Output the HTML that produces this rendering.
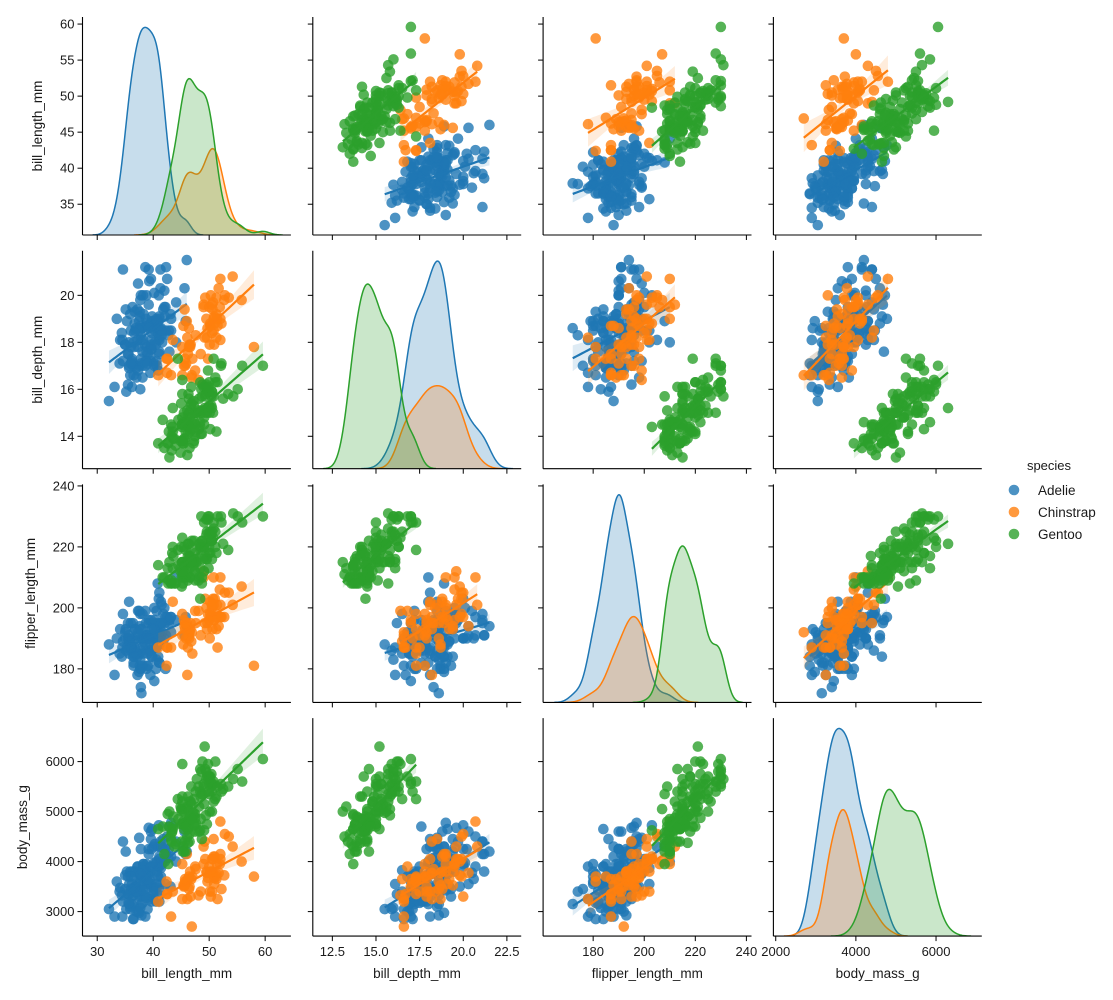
<!DOCTYPE html>
<html><head><meta charset="utf-8"><style>
html,body{margin:0;padding:0;background:#fff;}
svg{display:block;font-family:"Liberation Sans",sans-serif;}
</style></head><body>
<svg id="chart" width="1113" height="1000" viewBox="0 0 1113 1000" xmlns="http://www.w3.org/2000/svg"></svg>
<script>
// ---- data (Palmer penguins) ----
const variables = ["bill_length_mm","bill_depth_mm","flipper_length_mm","body_mass_g"];
const species = ["Adelie","Chinstrap","Gentoo"];
const adelieBillLength=[39.1,39.5,40.3,36.7,39.3,38.9,39.2,34.1,42,37.8,37.8,41.1,38.6,34.6,36.6,38.7,42.5,34.4,46,37.8,37.7,35.9,38.2,38.8,35.3,40.6,40.5,37.9,40.5,39.5,37.2,39.5,40.9,36.4,39.2,38.8,42.2,37.6,39.8,36.5,40.8,36,44.1,37,39.6,41.1,37.5,42.3,39.6,40.1,35,42,34.5,41.4,39,40.6,36.5,37.6,35.7,41.3,37.6,41.1,36.4,41.6,35.5,41.1,35.9,41.8,33.5,39.7,39.6,45.8,35.5,42.8,40.9,37.2,36.2,42.1,34.6,42.9,36.7,35.1,37.3,41.3,36.3,36.9,38.3,38.9,35.7,41.1,34,39.6,36.2,40.8,38.1,40.3,33.1,43.2,35,41,37.7,37.8,37.9,39.7,38.6,38.2,38.1,43.2,38.1,45.6,39.7,42.2,39.6,42.7,38.6,37.3,35.7,41.1,36.2,37.7,40.2,41.4,35.2,40.6,38.8,41.5,39,44.1,38.5,43.1,36.8,37.5,38.1,41.1,35.6,40.2,37,39.7,40.2,40.6,32.1,40.7,37.3,39,39.2,36.6,36,37.8,36,41.5];
const adelieBillDepth=[18.7,17.4,18,19.3,20.6,17.8,19.6,18.1,20.2,17.1,17.3,17.6,21.2,21.1,17.8,19,20.7,18.4,21.5,18.3,18.7,19.2,18.1,17.2,18.9,18.6,17.9,18.6,18.9,16.7,18.1,17.8,18.9,17,21.1,20,18.5,19.3,19.1,18,18.4,18.5,19.7,16.9,18.8,19,18.9,21.2,17.7,18.9,17.9,19.5,18.1,18.6,17.5,18.8,16.6,19.1,16.9,21.1,17,18.2,17.1,18,16.2,19.1,16.6,19.4,19,18.4,17.2,18.9,17.5,18.5,16.8,19.4,16.1,19.1,17.2,17.6,18.8,19.4,17.8,20.3,19.5,18.6,19.2,18.8,18,18.1,17.1,18.1,17.3,18.9,18.6,18.5,16.1,18.5,17.9,20,16,20,18.6,18.9,17.2,20,17,19,16.5,20.3,17.7,19.5,20.7,18.3,17,20.5,17,18.6,17.2,19.8,17,18.5,15.9,19,17.6,18.3,17.1,18,17.9,19.2,18.5,18.5,17.6,17.5,17.5,20.1,16.5,17.9,17.1,17.2,15.5,17,16.8,18.7,18.6,18.4,17.8,18.1,17.1,18.5];
const adelieFlipper=[181,186,195,193,190,181,195,193,190,186,180,182,191,198,185,195,197,184,194,174,180,189,185,180,187,183,187,172,180,178,178,188,184,195,196,190,180,181,184,182,195,186,196,185,190,182,179,191,186,188,190,200,187,191,186,193,181,194,185,195,185,192,184,192,195,188,190,198,190,190,196,197,190,195,191,184,187,195,189,196,187,193,191,194,190,189,189,190,202,205,185,186,187,208,190,196,178,192,192,203,183,190,193,184,199,190,181,197,198,191,193,197,191,196,188,199,189,189,187,198,176,202,186,199,191,195,191,210,190,197,193,199,187,190,191,200,185,193,193,187,188,190,192,185,190,184,195,193,187,201];
const adelieMass=[3750,3800,3250,3450,3650,3625,4675,3475,4250,3300,3700,3200,3800,4400,3700,3450,4500,3325,4200,3400,3600,3800,3950,3800,3800,3550,3200,3150,3950,3250,3900,3300,3900,3325,4150,3950,3550,3300,4650,3150,3900,3100,4400,3000,4600,3425,2975,4150,3500,4300,3450,4050,2900,3700,3550,3800,2850,3750,3150,4400,3600,4050,2850,3950,3350,4100,3050,4450,3600,3900,3550,4150,3700,4250,3700,3900,3550,4000,3200,4700,3800,4200,3350,3550,3800,3500,3950,3600,3550,4300,3400,4450,3300,4300,3700,4350,2900,4100,3725,4725,3075,4250,2925,3550,3750,3900,3175,4775,3825,4600,3200,4275,3900,4075,2900,3775,3350,3325,3150,3500,3450,3875,3050,4000,3275,4300,3050,4000,3325,3500,3500,4475,3425,3900,3175,3975,3400,4250,3400,3475,3050,3725,3000,3650,4250,3475,3450,3750,3700,4000];
const chinBillLength=[46.5,50,51.3,45.4,52.7,45.2,46.1,51.3,46,51.3,46.6,51.7,47,52,45.9,50.5,50.3,58,46.4,49.2,42.4,48.5,43.2,50.6,46.7,52,50.5,49.5,46.4,52.8,40.9,54.2,42.5,51,49.7,47.5,47.6,52,46.9,53.5,49,46.2,50.9,45.5,50.9,50.8,50.1,49,51.5,49.8,48.1,51.4,45.7,50.7,42.5,52.2,45.2,49.3,50.2,45.6,51.9,46.8,45.7,55.8,43.5,49.6,50.8,50.2];
const chinBillDepth=[17.9,19.5,19.2,18.7,19.8,17.8,18.2,18.2,18.9,19.9,17.8,20.3,17.3,18.1,17.1,19.6,20,17.8,18.6,18.2,17.3,17.5,16.6,19.4,17.9,19,18.4,19,17.8,20,16.6,20.8,16.7,18.8,18.6,16.8,18.3,20.7,16.6,19.9,19.5,17.5,19.1,17,17.9,18.5,17.9,19.6,18.7,17.3,16.4,19,17.3,19.7,17.3,18.8,16.6,19.9,18.8,19.4,19.5,16.5,17,19.8,18.1,18.2,19,18.7];
const chinFlipper=[192,196,193,188,197,198,178,197,195,198,193,194,185,201,190,201,197,181,190,195,181,191,187,193,195,197,200,200,191,205,187,201,187,203,195,199,195,210,192,205,210,187,196,196,196,201,190,212,187,198,199,201,193,203,187,197,191,203,202,194,206,189,195,207,202,193,210,198];
const chinMass=[3500,3900,3650,3525,3725,3950,3250,3750,4150,3700,3800,3775,3700,4050,3575,4050,3300,3700,3450,4400,3600,3400,2900,3800,3300,4150,3400,3800,3700,4550,3200,4300,3350,4100,3600,3900,3850,4800,2700,4500,3950,3650,3550,3500,3675,4450,3400,4300,3250,3675,3325,3950,3600,4050,3350,3450,3250,4050,3800,3525,3950,3650,3650,4000,3400,3775,4100,3775];
const gentBillLength=[46.1,50,48.7,50,47.6,46.5,45.4,46.7,43.3,46.8,40.9,49,45.5,48.4,45.8,49.3,42,49.2,46.2,48.7,50.2,45.1,46.5,46.3,42.9,46.1,47.8,48.2,50,47.3,42.8,45.1,59.6,49.1,48.4,42.6,44.4,44,48.7,42.7,49.6,45.3,49.6,50.5,43.6,45.5,50.5,44.9,45.2,46.6,48.5,45.1,50.1,46.5,45,43.8,45.5,43.2,50.4,45.3,46.2,45.7,54.3,45.8,49.8,46.2,49.5,43.5,50.7,47.7,46.4,48.2,46.5,46.4,48.6,47.5,51.1,45.2,45.2,49.1,52.5,47.4,50,44.9,50.8,43.4,51.3,47.5,52.1,47.5,52.2,45.5,49.5,44.5,50.8,49.4,46.9,48.4,51.1,48.5,55.9,47.2,49.1,47.3,46.8,41.7,53.4,43.3,48.1,50.5,49.8,43.5,51.5,46.2,55.1,48.8,47.2,46.8,50.4,45.2,49.9];
const gentBillDepth=[13.2,16.3,14.1,15.2,14.5,13.5,14.6,15.3,13.4,15.4,13.7,16.1,13.7,14.6,14.6,15.7,13.5,15.2,14.5,15.1,14.3,14.5,14.5,15.8,13.1,15.1,15,14.3,15.3,15.3,14.2,14.5,17,14.8,16.3,13.7,17.3,13.6,15.7,13.7,16,13.7,15,15.9,13.9,13.9,15.9,13.3,15.8,14.2,14.1,14.4,15,14.4,15.4,13.9,15,14.5,15.3,13.8,14.9,13.9,15.7,14.2,16.8,14.4,16.2,14.2,15,15,15.6,15.6,14.8,15,16,14.2,16.3,13.8,16.4,14.5,15.6,14.6,15.9,13.8,17.3,14.4,14.2,14,17,15,17.1,14.5,16.1,14.7,15.7,15.8,14.6,14.4,16.5,15,17,15.5,15,13.8,16.1,14.7,15.8,14,15.1,15.2,15.9,15.2,16.3,14.1,16,16.2,13.7,14.3,15.7,14.8,16.1];
const gentFlipper=[211,230,210,218,215,210,211,219,209,215,214,216,214,213,210,217,210,221,209,222,218,215,213,215,215,215,215,210,220,222,209,207,230,220,220,213,219,208,208,208,225,210,216,222,217,210,225,213,215,210,220,210,225,217,220,208,220,208,224,208,221,214,231,219,230,214,229,220,223,216,221,221,217,216,230,209,220,215,223,212,221,212,224,212,228,218,218,212,230,218,228,212,224,214,226,216,222,203,225,219,228,215,228,216,215,210,219,208,209,216,229,213,230,217,230,222,214,215,222,212,213];
const gentMass=[4500,5700,4450,5700,5400,4550,4800,5200,4400,5150,4650,5550,4650,5850,4200,5850,4150,6300,4800,5350,5700,5000,4400,5050,5000,5100,5650,4600,5550,5250,4700,5050,6050,5150,5400,4950,5250,4350,5350,3950,5700,4300,4750,5550,4900,4200,5400,5100,5300,4850,5300,4400,5000,4900,5050,4300,5000,4450,5550,4200,5300,4400,5650,4700,5700,4650,5800,4700,5550,4750,5000,5100,5200,4700,5800,4600,6000,4750,5950,4625,5450,4725,5350,4750,5600,4600,5300,4875,5550,4950,5400,4750,5650,4850,5200,4925,4875,4625,5250,4850,5600,4975,5500,4725,5500,4700,5500,4575,5500,5000,5950,4650,5500,4375,5850,6000,4925,4850,5750,5200,5400];
const xTicks0=[30,40,50,60], xTicks1=[12.5,15,17.5,20,22.5], xTicks2=[180,200,220,240], xTicks3=[2000,4000,6000];
const yTicks0=[35,40,45,50,55,60], yTicks1=[14,16,18,20], yTicks2=[180,200,220,240], yTicks3=[3000,4000,5000,6000];
const xTickLabels1=["12.5","15.0","17.5","20.0","22.5"];

// ---- layout ----
const colors=["#1f77b4","#ff7f0e","#2ca02c"];
const XLIM=[[27.37,64.6],[11.38,23.32],[160.4,242],[1942,7142]];
const YLIM=[[30.73,60.98],[12.62,21.9],[169,240.5],[2510,6870]];
const L0=82.5,CSTEP=230.3,W=208.4,T0=17,RSTEP=233.7,H=218;
const data=[[adelieBillLength,adelieBillDepth,adelieFlipper,adelieMass],[chinBillLength,chinBillDepth,chinFlipper,chinMass],[gentBillLength,gentBillDepth,gentFlipper,gentMass]];
const xt=[xTicks0,xTicks1,xTicks2,xTicks3], yt=[yTicks0,yTicks1,yTicks2,yTicks3];
const NS="http://www.w3.org/2000/svg";
const svg=document.getElementById("chart");
function mk(tag,attrs,parent){const e=document.createElementNS(NS,tag);for(const k in attrs)e.setAttribute(k,attrs[k]);(parent||svg).appendChild(e);return e;}
function sx(c,v){return L0+c*CSTEP+(v-XLIM[c][0])/(XLIM[c][1]-XLIM[c][0])*W;}
function sy(r,v){return T0+r*RSTEP+H-(v-YLIM[r][0])/(YLIM[r][1]-YLIM[r][0])*H;}
function mean(a){return a.reduce((s,v)=>s+v,0)/a.length;}
function std(a){const m=mean(a);return Math.sqrt(a.reduce((s,v)=>s+(v-m)*(v-m),0)/(a.length-1));}
const N=data.reduce((s,d)=>s+d[0].length,0);

for(let r=0;r<4;r++)for(let c=0;c<4;c++){
  const ax=mk("g",{});
  
  
  const left=L0+c*CSTEP, top=T0+r*RSTEP;
  const cp=mk("clipPath",{id:"cp"+r+c},ax); mk("rect",{x:left,y:top,width:W,height:H},cp);
  const plot=mk("g",{"clip-path":"url(#cp"+r+c+")"},ax);
  if(r===c){
    // KDE diagonal
    const curves=[];let ymax=0;
    data.forEach((d,s)=>{const a=d[c];const bw=std(a)*Math.pow(a.length,-0.2);
      const lo=Math.min(...a)-3*bw,hi=Math.max(...a)+3*bw;const pts=[];
      for(let i=0;i<=200;i++){const x=lo+(hi-lo)*i/200;let v=0;for(const q of a){const z=(x-q)/bw;v+=Math.exp(-0.5*z*z);}
        v=v/(a.length*bw*Math.sqrt(2*Math.PI))*a.length/N;pts.push([x,v]);if(v>ymax)ymax=v;}
      curves.push(pts);});
    const ytop=ymax*1.05;const base=top+H;
    curves.forEach((pts,s)=>{
      const line=pts.map(p=>sx(c,p[0]).toFixed(2)+","+(base-p[1]/ytop*H).toFixed(2)).join(" ");
      const f=mk("polygon",{points:sx(c,pts[0][0])+","+base+" "+line+" "+sx(c,pts[pts.length-1][0])+","+base,fill:colors[s],"fill-opacity":0.25},plot);
      
      
      const l=mk("polyline",{points:line,fill:"none",stroke:colors[s],"stroke-width":1.5},plot);
      
      
    });
  } else {
    data.forEach((d,s)=>{
      const xs=d[c],ys=d[r];const g=mk("g",{},plot);
      
      
      for(let i=0;i<xs.length;i++){
        const p=mk("circle",{cx:sx(c,xs[i]).toFixed(2),cy:sy(r,ys[i]).toFixed(2),r:5.3,fill:colors[s],"fill-opacity":0.8},g);
        
        
      }
      // regression + CI
      const mx=mean(xs),my=mean(ys);let sxx=0,sxy=0;for(let i=0;i<xs.length;i++){sxx+=(xs[i]-mx)**2;sxy+=(xs[i]-mx)*(ys[i]-my);}
      const b=sxy/sxx,a0=my-b*mx;let sse=0;for(let i=0;i<xs.length;i++)sse+=(ys[i]-a0-b*xs[i])**2;
      const se=Math.sqrt(sse/(xs.length-2));const lo=Math.min(...xs),hi=Math.max(...xs);
      const up=[],dn=[],ln=[];
      for(let i=0;i<=60;i++){const x=lo+(hi-lo)*i/60;const yh=a0+b*x;const e=1.98*se*Math.sqrt(1/xs.length+(x-mx)**2/sxx);
        const X=sx(c,x).toFixed(2);up.push(X+","+sy(r,yh+e).toFixed(2));dn.unshift(X+","+sy(r,yh-e).toFixed(2));ln.push(X+","+sy(r,yh).toFixed(2));}
      const band=mk("polygon",{points:up.concat(dn).join(" "),fill:colors[s],"fill-opacity":0.15},plot);
      
      
      const rl=mk("polyline",{points:ln.join(" "),fill:"none",stroke:colors[s],"stroke-width":2.2},plot);
      
      
    });
  }
  // spines
  const sl=mk("line",{x1:left,y1:top,x2:left,y2:top+H,stroke:"#000","stroke-width":1.1},ax);
  
  
  const sb=mk("line",{x1:left,y1:top+H,x2:left+W,y2:top+H,stroke:"#000","stroke-width":1.1},ax);
  
  
  xt[c].forEach((v,i)=>{const X=sx(c,v);mk("line",{x1:X,y1:top+H,x2:X,y2:top+H+5,stroke:"#000","stroke-width":1},ax);
    if(r===3){const t=mk("text",{x:X,y:top+H+20,"text-anchor":"middle","font-size":13,fill:"#1a1a1a"},ax);t.textContent=c===1?xTickLabels1[i]:String(v);
      
      }});
  yt[r].forEach(v=>{const Y=sy(r,v);mk("line",{x1:left,y1:Y,x2:left-5,y2:Y,stroke:"#000","stroke-width":1},ax);
    if(c===0){const t=mk("text",{x:left-8,y:Y+4.5,"text-anchor":"end","font-size":13,fill:"#1a1a1a"},ax);t.textContent=String(v);
      
      }});
}
// axis titles
const ylx=[42,42,35,27];
for(let r=0;r<4;r++){const cy=T0+r*RSTEP+H/2;const t=mk("text",{x:ylx[r],y:cy,transform:"rotate(-90 "+ylx[r]+" "+cy+")","text-anchor":"middle","font-size":13.5,fill:"#1a1a1a"});
  t.textContent=variables[r];
  
  }
for(let c=0;c<4;c++){const t=mk("text",{x:L0+c*CSTEP+W/2,y:978,"text-anchor":"middle","font-size":13.5,fill:"#1a1a1a"});
  t.textContent=variables[c];
  
  }
// legend
const lg=mk("g",{});


const lt=mk("text",{x:1049,y:470,"text-anchor":"middle","font-size":13,fill:"#1a1a1a"},lg);lt.textContent="species";


species.forEach((s,i)=>{const y=490+i*22;const e=mk("g",{},lg);
  
  
  mk("circle",{cx:1014,cy:y,r:5.3,fill:colors[i],"fill-opacity":0.8},e);
  const t=mk("text",{x:1038,y:y+5,"font-size":13.5,fill:"#1a1a1a"},e);t.textContent=s;});
</script>
</body></html>
